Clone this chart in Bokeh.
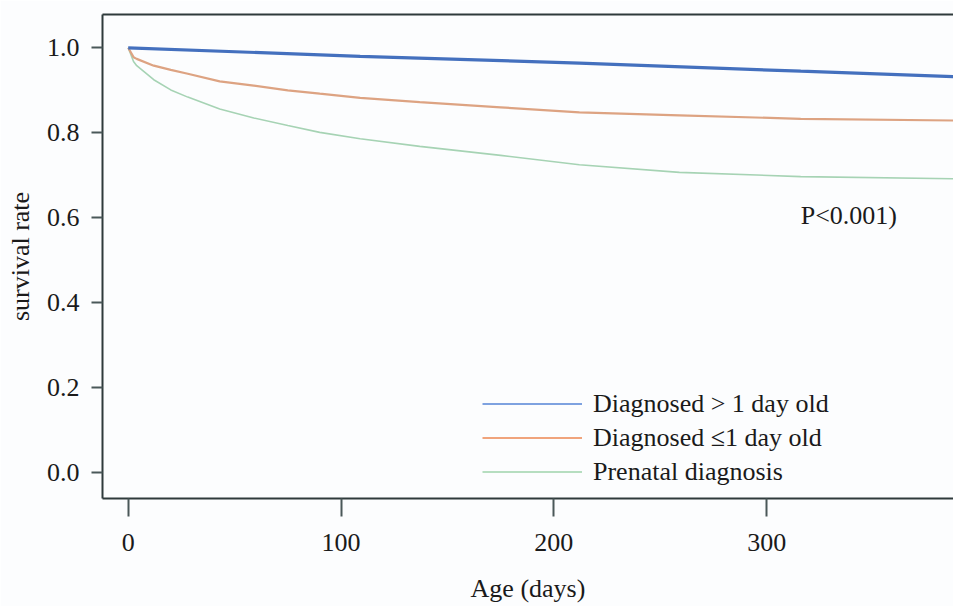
from bokeh.plotting import figure
from bokeh.models import Range1d, FixedTicker, LinearAxis, Legend, LegendItem, Label
from bokeh.embed import file_html
from bokeh.resources import INLINE

# ---- data ----
blue_days = [0, 109, 212, 316, 388]
blue_surv = [1.0, 0.980, 0.964, 0.945, 0.932]

orange_days = [0, 2.5, 4, 12, 20, 28, 43, 59, 75, 90, 109, 137, 175, 212, 259, 316, 388]
orange_surv = [1.0, 0.978, 0.974, 0.958, 0.948, 0.939, 0.921, 0.911, 0.900, 0.892,
               0.882, 0.872, 0.860, 0.848, 0.841, 0.833, 0.829]

green_days = [0, 2.5, 4, 12, 20, 28, 43, 59, 75, 90, 109, 137, 175, 212, 259, 316, 388]
green_surv = [1.0, 0.968, 0.958, 0.925, 0.901, 0.884, 0.856, 0.835, 0.817, 0.801,
              0.786, 0.768, 0.747, 0.725, 0.707, 0.697, 0.692]

series_labels = ["Diagnosed > 1 day old", "Diagnosed \u22641 day old", "Prenatal diagnosis"]

x_ticks = [0, 100, 200, 300]
y_ticks = [0.0, 0.2, 0.4, 0.6, 0.8, 1.0]
y_tick_labels = ["0.0", "0.2", "0.4", "0.6", "0.8", "1.0"]

p_text = "P<0.001)"
p_text_x = 316
p_text_y = 0.605

# ---- styling ----
FONT = "Liberation Serif"
FS = "26px"
AXIS_COLOR = "#2E3A3B"
TEXT_COLOR = "#1A1A1A"
BG = "#FCFDFE"
NAN = float("nan")

p = figure(width=953, height=606,
           x_range=Range1d(-12.08, 387.8), y_range=Range1d(-0.0605, 1.0784),
           output_backend="svg", toolbar_location=None,
           min_border_left=102, min_border_right=0, min_border_top=14, min_border_bottom=108)
p.background_fill_color = BG
p.border_fill_color = BG
p.outline_line_color = None
p.grid.visible = False

# curves
p.line(green_days, green_surv, line_color="#A6D3B4", line_width=1.6)
p.line(orange_days, orange_surv, line_color="#DDA382", line_width=2.2)
p.line(blue_days, blue_surv, line_color="#4470BE", line_width=3.2)

# legend renderers (styling only, no visible data)
lb = p.line([NAN], [NAN], line_color="#7EA2E0", line_width=2)
lo = p.line([NAN], [NAN], line_color="#F0A47C", line_width=2)
lg = p.line([NAN], [NAN], line_color="#B6DEC0", line_width=2)

legend = Legend(items=[LegendItem(label=series_labels[0], renderers=[lb]),
                       LegendItem(label=series_labels[1], renderers=[lo]),
                       LegendItem(label=series_labels[2], renderers=[lg])],
                location=(380, 11))
legend.label_text_font = FONT
legend.label_text_font_size = FS
legend.label_text_color = TEXT_COLOR
legend.glyph_width = 100
legend.glyph_height = 31
legend.label_height = 31
legend.label_standoff = 11
legend.spacing = 3
legend.padding = 0
legend.margin = 0
legend.border_line_color = None
legend.background_fill_alpha = 0
p.add_layout(legend)

# x axis
xa = p.xaxis[0]
xa.ticker = FixedTicker(ticks=x_ticks)
xa.axis_label = "Age (days)"
xa.axis_label_text_font = FONT
xa.axis_label_text_font_size = FS
xa.axis_label_text_font_style = "normal"
xa.axis_label_text_color = TEXT_COLOR
xa.axis_label_standoff = 20
xa.major_label_text_font = FONT
xa.major_label_text_font_size = FS
xa.major_label_text_color = TEXT_COLOR
xa.major_label_standoff = 17
xa.major_tick_out = 18
xa.major_tick_in = 0
xa.minor_tick_out = 0
xa.minor_tick_in = 0
xa.minor_tick_line_color = None
xa.major_tick_line_color = "#4A5859"
xa.major_tick_line_width = 2
xa.axis_line_color = AXIS_COLOR
xa.axis_line_width = 2

# y axis
ya = p.yaxis[0]
ya.ticker = FixedTicker(ticks=y_ticks)
ya.major_label_overrides = {t: l for t, l in zip(y_ticks, y_tick_labels)}
ya.axis_label = "survival rate"
ya.axis_label_text_font = FONT
ya.axis_label_text_font_size = FS
ya.axis_label_text_font_style = "normal"
ya.axis_label_text_color = TEXT_COLOR
ya.axis_label_standoff = 9
ya.major_label_text_font = FONT
ya.major_label_text_font_size = FS
ya.major_label_text_color = TEXT_COLOR
ya.major_label_standoff = 12
ya.major_tick_out = 11
ya.major_tick_in = 0
ya.minor_tick_out = 0
ya.minor_tick_in = 0
ya.minor_tick_line_color = None
ya.major_tick_line_color = "#4A5859"
ya.major_tick_line_width = 2
ya.axis_line_color = AXIS_COLOR
ya.axis_line_width = 2

# top border line
top = LinearAxis(ticker=FixedTicker(ticks=[]), major_tick_out=0, major_tick_in=0,
                 minor_tick_out=0, minor_tick_in=0, major_label_standoff=0,
                 axis_line_color=AXIS_COLOR, axis_line_width=2)
p.add_layout(top, "above")

p.add_layout(Label(x=p_text_x, y=p_text_y, text=p_text, text_font=FONT,
                   text_font_size=FS, text_color=TEXT_COLOR, text_baseline="middle",
                   text_align="left"))

open("out.html", "w").write(file_html(p, INLINE))
